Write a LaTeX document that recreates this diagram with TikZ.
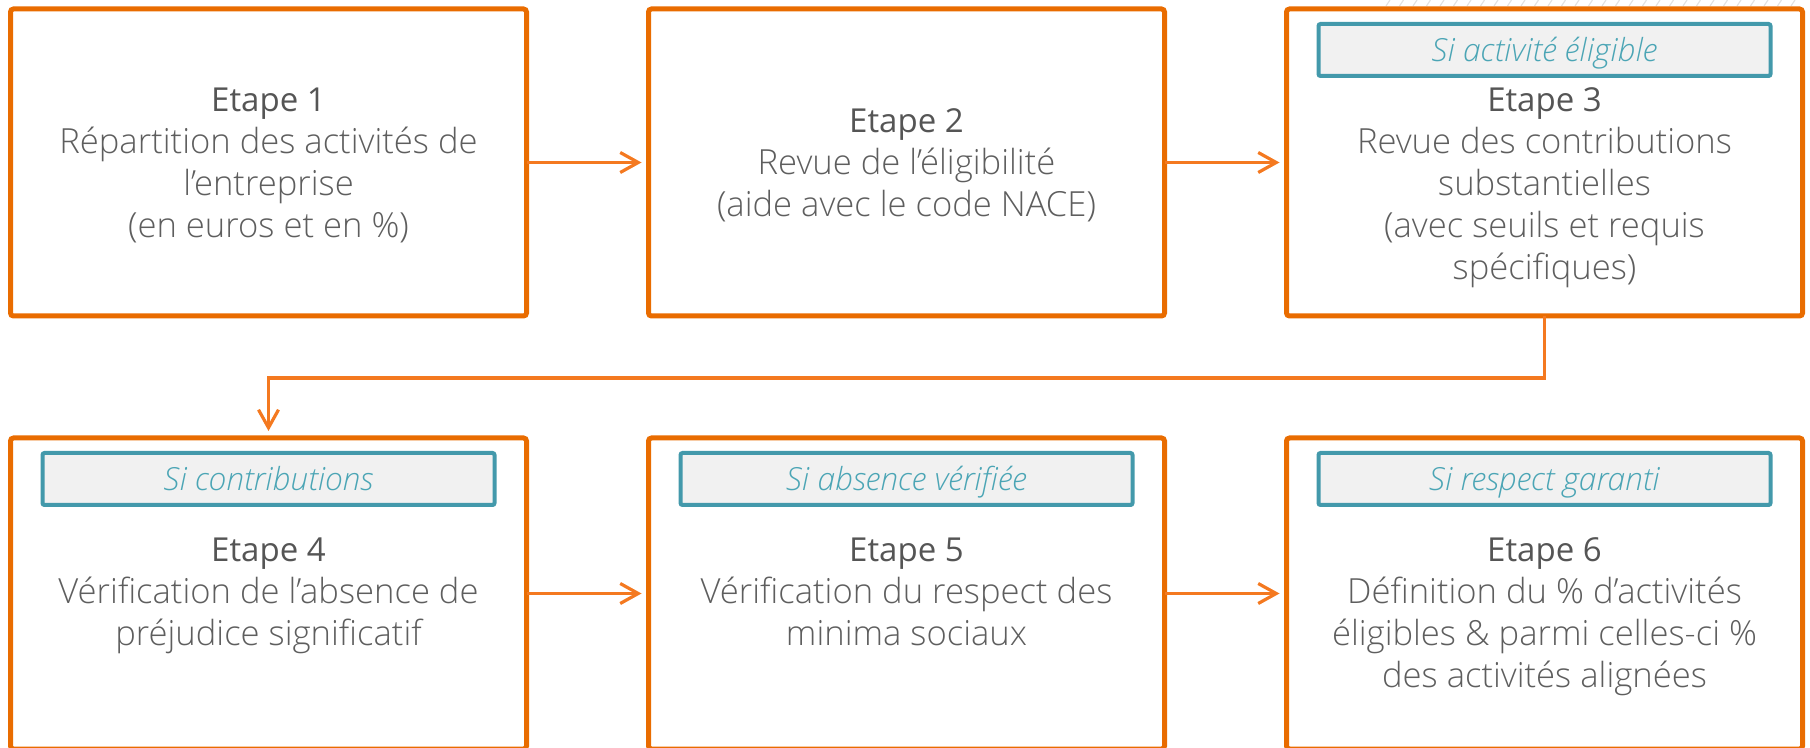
\documentclass[tikz,border=0pt]{standalone}
\usepackage{fontspec}
\setmainfont{Open Sans}
\newfontfamily\lightfont{Open Sans Light}[ItalicFont={Open Sans Light Italic}]
\usepackage{tikz}
\usetikzlibrary{positioning, arrows.meta}

\definecolor{bordure}{HTML}{E96C00}
\definecolor{fleche}{HTML}{F47920}
\definecolor{sarcelle}{HTML}{4399AB}
\definecolor{sarcelletexte}{HTML}{4BA5B5}
\definecolor{fond}{HTML}{F1F1F1}
\definecolor{titre}{HTML}{555555}
\definecolor{corps}{HTML}{5E5E5E}
\definecolor{hachure}{HTML}{E2E2E2}

\tikzstyle{etape} = [rectangle, rounded corners=1.5pt, minimum width=258pt, minimum height=153.5pt, outer sep=0pt, draw=bordure, line width=2.5pt]
\tikzstyle{texte} = [align=center, inner sep=0pt, text=corps, font=\lightfont\fontsize{17.3pt}{21pt}\selectfont]
\tikzstyle{condition} = [rectangle, rounded corners=1pt, minimum width=226pt, minimum height=26pt, inner sep=0pt, outer sep=0pt, draw=sarcelle, line width=2pt, fill=fond, text=sarcelletexte, text height=13.5pt, text depth=2.2pt, font=\lightfont\itshape\fontsize{15.9pt}{20pt}\selectfont]
\tikzstyle{arrow} = [line width=1.6pt, draw=fleche, -{Straight Barb[length=9pt, width=10pt]}, shorten >=3.5pt]

\newcommand{\etape}[1]{{\normalfont\fontsize{16.5pt}{21pt}\selectfont\color{titre}\strut Etape #1}}

\begin{document}
\begin{tikzpicture}[node distance=61pt]
        \useasboundingbox (0,0) rectangle (905pt,-374pt);
        % hachures en haut a droite
        \foreach \i in {0,...,30}
            \draw [hachure, line width=0.6pt] (693pt+6.75pt*\i,-3pt) -- ++(2pt,3pt);

        \node (e1) [etape] at (134.25pt,-81.25pt) {};
        \node (e2) [etape, right=of e1] {};
        \node (e3) [etape, right=of e2] {};
        \node (e4) [etape, below=of e1, minimum height=155.5pt] {};
        \node (e5) [etape, right=of e4, minimum height=155.5pt] {};
        \node (e6) [etape, right=of e5, minimum height=155.5pt] {};

        \node (c3) [condition, below=7.5pt of e3.north] {Si activité éligible};
        \node (c4) [condition, below=7.5pt of e4.north] {Si contributions};
        \node (c5) [condition, below=7.5pt of e5.north] {Si absence vérifiée};
        \node (c6) [condition, below=7.5pt of e6.north] {Si respect garanti};

        \node (t1) [texte, below=36.5pt of e1.north] {\etape{1}\\Répartition des activités de\\l’entreprise\\(en euros et en \%)};
        \node (t2) [texte, below=47pt of e2.north] {\etape{2}\\Revue de l’éligibilité\\(aide avec le code NACE)};
        \node (t3) [texte, below=36.5pt of e3.north] {\etape{3}\\Revue des contributions\\substantielles\\(avec seuils et requis\\spécifiques)};
        \node (t4) [texte, below=47pt of e4.north] {\etape{4}\\Vérification de l’absence de\\préjudice significatif};
        \node (t5) [texte, below=47pt of e5.north] {\etape{5}\\Vérification du respect des\\minima sociaux};
        \node (t6) [texte, below=47pt of e6.north] {\etape{6}\\Définition du \% d’activités\\éligibles \& parmi celles-ci \%\\des activités alignées};

        \draw [arrow] (e1) -- (e2);
        \draw [arrow] (e2) -- (e3);
        \draw [arrow] (e3.south) -- ++(0,-31pt) -| (e4.north);
        \draw [arrow] (e4) -- (e5);
        \draw [arrow] (e5) -- (e6);
\end{tikzpicture}
\end{document}
